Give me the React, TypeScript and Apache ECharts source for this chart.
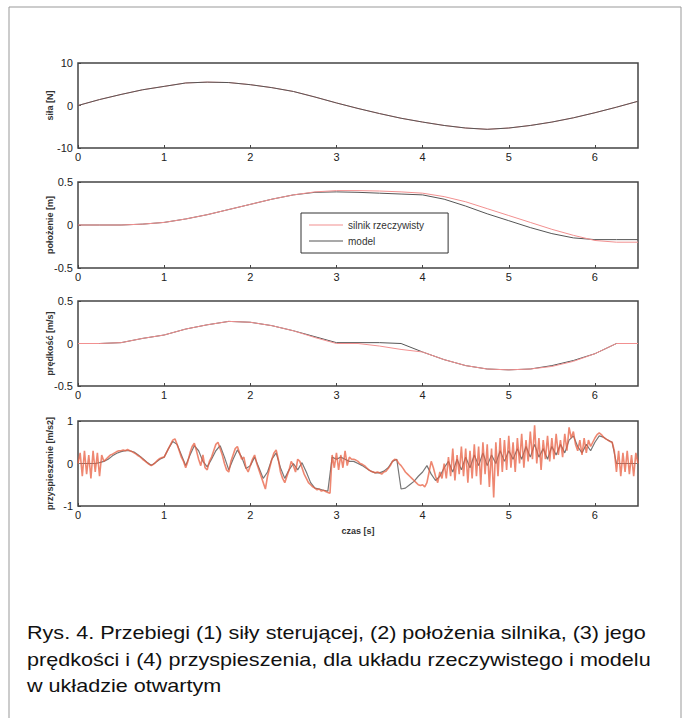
import React, { useEffect, useRef } from "react";
import * as echarts from "echarts";

// ---------- data ----------
const X_TICKS = [0, 1, 2, 3, 4, 5, 6];
const X_MAX = 6.5;

// panels 1-3 sampled every 0.25 s (t = 0 … 6.5)
const COARSE_STEP = 0.25;
const FORCE = [0, 1.4, 2.6, 3.7, 4.5, 5.3, 5.5, 5.4, 4.9, 4.2, 3.3, 2.0, 0.6, -0.7, -1.9, -3.0, -3.9, -4.7, -5.3, -5.6, -5.3, -4.7, -3.9, -2.9, -1.7, -0.4, 1.0];

const POS_MODEL = [0, 0, 0, 0.01, 0.03, 0.07, 0.12, 0.18, 0.24, 0.3, 0.35, 0.38, 0.385, 0.38, 0.37, 0.36, 0.35, 0.3, 0.22, 0.13, 0.05, -0.03, -0.1, -0.15, -0.17, -0.17, -0.17];
const POS_REAL = [0, 0, 0, 0.01, 0.03, 0.07, 0.12, 0.18, 0.24, 0.3, 0.35, 0.385, 0.4, 0.4, 0.395, 0.385, 0.37, 0.33, 0.27, 0.19, 0.11, 0.03, -0.05, -0.12, -0.18, -0.2, -0.2];

const VEL_MODEL = [0, 0, 0.01, 0.06, 0.1, 0.17, 0.22, 0.26, 0.25, 0.21, 0.15, 0.08, 0.01, 0.01, 0.01, 0.0, -0.1, -0.19, -0.26, -0.3, -0.31, -0.3, -0.26, -0.2, -0.12, 0, 0];
const VEL_REAL = [0, 0, 0.01, 0.06, 0.1, 0.17, 0.22, 0.26, 0.25, 0.21, 0.15, 0.07, 0, 0, -0.03, -0.07, -0.1, -0.19, -0.26, -0.3, -0.31, -0.3, -0.27, -0.21, -0.12, 0, 0];

// panel 4 model sampled every 0.05 s
const ACC_MODEL_STEP = 0.05;
const ACC_MODEL = [
  0, 0, 0, 0, 0,
  0.02, 0.05, 0.1, 0.18, 0.24,
  0.28, 0.3, 0.3, 0.27, 0.2,
  0.12, 0.03, -0.04, 0.02, 0.1,
  0.15, 0.35, 0.52, 0.45, 0.2,
  -0.05, 0.2, 0.42, 0.3, 0.05,
  -0.08, 0.1, 0.3, 0.42, 0.15,
  -0.15, 0.1, 0.32, 0.15, -0.12,
  -0.05, 0.15, -0.1, -0.35, -0.2,
  0.1, 0.25, -0.1, -0.35, -0.15,
  0.0, -0.15, 0.02, -0.2, -0.45,
  -0.58, -0.6, -0.63, -0.65, 0.15,
  0.1, 0.15, 0.1, 0.05, 0.05,
  0.0, -0.05, -0.12, -0.18, -0.22,
  -0.22, -0.18, -0.1, 0.05, 0.1,
  -0.6, -0.58, -0.5, -0.42, -0.3,
  -0.2, -0.05, -0.25, -0.4, -0.3,
  -0.1, 0.05, -0.2, 0.1, -0.15,
  0.15, -0.1, 0.2, -0.05, 0.25,
  -0.05, 0.2, 0.0, 0.3, 0.05,
  0.3, 0.1, 0.35, 0.1, 0.4,
  0.15, 0.45, 0.15, 0.35, 0.1,
  0.4, 0.2, 0.45, 0.25, 0.55,
  0.65, 0.4, 0.25, 0.45, 0.3,
  0.5, 0.65, 0.62, 0.55, 0.5,
  0, 0, 0, 0, 0,
  0,
];

// panel 4 real motor sampled every 0.025 s
const ACC_REAL_STEP = 0.025;
const ACC_REAL = [
  0, 0.25, -0.3, 0.3, -0.25, 0.2, -0.35, 0.3, -0.2, 0.25,
  -0.3, 0.2, 0.05, 0.1, 0.15, 0.2, 0.22, 0.25, 0.28, 0.3,
  0.3, 0.32, 0.3, 0.33, 0.3, 0.28, 0.25, 0.22, 0.18, 0.15,
  0.1, 0.06, 0.02, -0.02, -0.05, -0.02, 0.03, 0.08, 0.12, 0.14,
  0.15, 0.25, 0.35, 0.45, 0.55, 0.58, 0.45, 0.3, 0.15, 0.05,
  -0.1, 0.05, 0.25, 0.4, 0.48, 0.3, 0.1, -0.05, 0.2, -0.1,
  -0.15, 0.05, 0.15, 0.3, 0.45, 0.5, 0.35, 0.2, 0.0, -0.15,
  -0.2, 0.05, 0.2, 0.35, 0.4, 0.25, 0.1, 0.15, -0.1, -0.2,
  -0.05, 0.1, 0.2, 0.0, -0.15, -0.3, -0.45, -0.6, -0.3, -0.1,
  0.1, 0.25, 0.32, 0.1, -0.2, -0.35, -0.45, -0.3, -0.15, 0.05,
  -0.05, -0.2, 0.1, 0.05, -0.1, -0.25, -0.35, -0.45, -0.5, -0.55,
  -0.58, -0.62, -0.6, -0.65, -0.63, -0.66, -0.68, -0.7, 0.2, -0.1,
  0.25, -0.15, 0.2, -0.1, 0.3, -0.05, 0.15, 0.1, 0.1, 0.08,
  0.05, 0.0, -0.02, -0.05, -0.1, -0.15, -0.18, -0.2, -0.22, -0.2,
  -0.22, -0.25, -0.2, -0.18, -0.12, -0.05, 0.05, 0.1, 0.08, 0.0,
  -0.05, -0.12, -0.2, -0.25, -0.3, -0.35, -0.4, -0.45, -0.5, -0.52,
  -0.5, -0.55, -0.45, -0.2, 0.05, -0.1, -0.3, -0.45, -0.2, -0.35,
  0.0, -0.35, 0.15, -0.3, 0.35, -0.4, 0.2, -0.25, 0.4, -0.3,
  0.35, -0.45, 0.3, -0.35, 0.45, -0.3, 0.4, -0.5, 0.5, -0.25,
  0.45, -0.55, 0.35, -0.8, 0.5, -0.3, 0.6, -0.2, 0.55, -0.15,
  0.65, -0.1, 0.5, -0.2, 0.6, 0.0, 0.7, -0.1, 0.55, 0.05,
  0.75, 0.1, 0.9, 0.0, 0.6, -0.15, 0.55, 0.1, 0.65, 0.05,
  0.6, 0.1, 0.7, 0.2, 0.55, 0.15, 0.7, 0.3, 0.85, 0.6,
  0.75, 0.45, 0.3, 0.55, 0.2, 0.6, 0.25, 0.55, 0.4, 0.5,
  0.6, 0.68, 0.72, 0.68, 0.62, 0.58, 0.55, 0.52, 0.5, 0.3,
  -0.2, 0.3, -0.3, 0.25, -0.2, 0.3, -0.25, 0.2, -0.3, 0.25,
  0.0,
];

const Y_NAMES = ["siła [N]", "położenie [m]", "prędkość [m/s]", "przyspieszenie [m/s2]"];
const Y_RANGES = [
  { min: -10, max: 10, interval: 10 },
  { min: -0.5, max: 0.5, interval: 0.5 },
  { min: -0.5, max: 0.5, interval: 0.5 },
  { min: -1, max: 1, interval: 1 },
];
const X_NAME = "czas [s]";
const LEGEND_NAMES = ["silnik rzeczywisty", "model"];
const CAPTION = [
  "Rys. 4. Przebiegi (1) siły sterującej, (2) położenia silnika, (3) jego",
  "prędkości i (4) przyspieszenia, dla układu rzeczywistego i modelu",
  "w układzie otwartym",
];

const pairs = (vals: number[], step: number) => vals.map((v, i) => [+(i * step).toFixed(4), v]);

const FONT = '"Liberation Sans", Arial, sans-serif';
const RED = "rgba(232,95,65,0.75)";
const PINK = "#f29090";
const DARK = "#555";

export default function App() {
  const ref = useRef<HTMLDivElement>(null);
  useEffect(() => {
    if (!ref.current) return;
    const chart = echarts.init(ref.current, undefined, { renderer: "svg" });
    const tops = [63, 182, 301, 421];
    const heights = [85, 86, 85, 85];
    const grid = tops.map((t, i) => ({
      left: 78,
      top: t,
      width: 560,
      height: heights[i],
      show: true,
      borderColor: "#444",
      borderWidth: 1.5,
      backgroundColor: "#fff",
    }));
    const xAxis = tops.map((_, i) => ({
      type: "value",
      gridIndex: i,
      min: 0,
      max: X_MAX,
      interval: 1,
      axisLine: { show: false, onZero: false },
      axisTick: { show: true, inside: true, length: 3, lineStyle: { color: "#444" } },
      axisLabel: {
        fontSize: 11,
        color: "#222",
        margin: 3,
        fontFamily: FONT,
        showMaxLabel: false,
        formatter: (v: number) => (X_TICKS.includes(v) ? String(v) : ""),
      },
      splitLine: { show: false },
      name: i === 3 ? X_NAME : "",
      nameLocation: "middle",
      nameGap: 20,
      nameMoveOverlap: false,
      nameTextStyle: { fontSize: 9, fontWeight: "bold", color: "#333", fontFamily: FONT },
    }));
    const yAxis = Y_RANGES.map((r, i) => ({
      type: "value",
      gridIndex: i,
      min: r.min,
      max: r.max,
      interval: r.interval,
      axisLine: { show: false, onZero: false },
      axisTick: { show: true, inside: true, length: 3, lineStyle: { color: "#444" } },
      axisLabel: { fontSize: 11, color: "#222", margin: 5, fontFamily: FONT },
      splitLine: { show: false },
      name: Y_NAMES[i],
      nameLocation: "middle",
      nameRotate: 90,
      nameGap: 24,
      nameMoveOverlap: false,
      nameTextStyle: { fontSize: 9, fontWeight: "bold", color: "#333", fontFamily: FONT },
    }));
    const line = (name: string, idx: number, data: number[][], color: string, width: number, z: number) => ({
      type: "line",
      name,
      xAxisIndex: idx,
      yAxisIndex: idx,
      data,
      symbol: "none",
      showSymbol: false,
      lineStyle: { color, width },
      itemStyle: { color },
      z,
    });
    const series = [
      line("red-0", 0, pairs(FORCE, COARSE_STEP), PINK, 1, 2),
      line("black-0", 0, pairs(FORCE, COARSE_STEP), DARK, 1, 3),
      line(LEGEND_NAMES[1], 1, pairs(POS_MODEL, COARSE_STEP), DARK, 1, 2),
      line(LEGEND_NAMES[0], 1, pairs(POS_REAL, COARSE_STEP), PINK, 1, 3),
      line("black-2", 2, pairs(VEL_MODEL, COARSE_STEP), DARK, 1, 2),
      line("red-2", 2, pairs(VEL_REAL, COARSE_STEP), PINK, 1, 3),
      line("black-3", 3, pairs(ACC_MODEL, ACC_MODEL_STEP), "#777", 1.2, 2),
      line("red-3", 3, pairs(ACC_REAL, ACC_REAL_STEP), RED, 1.6, 3),
    ];
    chart.setOption({
      animation: false,
      backgroundColor: "#fff",
      textStyle: { fontFamily: FONT },
      grid,
      xAxis,
      yAxis,
      series,
      legend: {
        data: LEGEND_NAMES,
        orient: "vertical",
        left: 301,
        top: 213,
        icon: "rect",
        itemWidth: 34,
        itemHeight: 1,
        itemGap: 6,
        padding: [7, 24, 7, 8],
        borderColor: "#333",
        borderWidth: 1,
        backgroundColor: "#fff",
        textStyle: { fontSize: 10, color: "#333", fontFamily: FONT },
        selectedMode: false,
      },
      graphic: [
        {
          type: "rect",
          shape: { x: 9, y: 7, width: 672, height: 720 },
          style: { fill: "none", stroke: "#999", lineWidth: 1 },
          silent: true,
        },
        ...CAPTION.map((txt, i) => ({
          type: "text",
          x: 27,
          y: 633 + i * 26.5,
          scaleY: 0.86,
          style: {
            text: txt,
            font: `21.6px ${FONT}`,
            fill: "#111",
            textVerticalAlign: "middle",
          },
          silent: true,
        })),
      ],
    });
    return () => chart.dispose();
  }, []);
  return <div ref={ref} style={{ position: "fixed", left: 0, top: 0, width: 686, height: 718 }} />;
}
